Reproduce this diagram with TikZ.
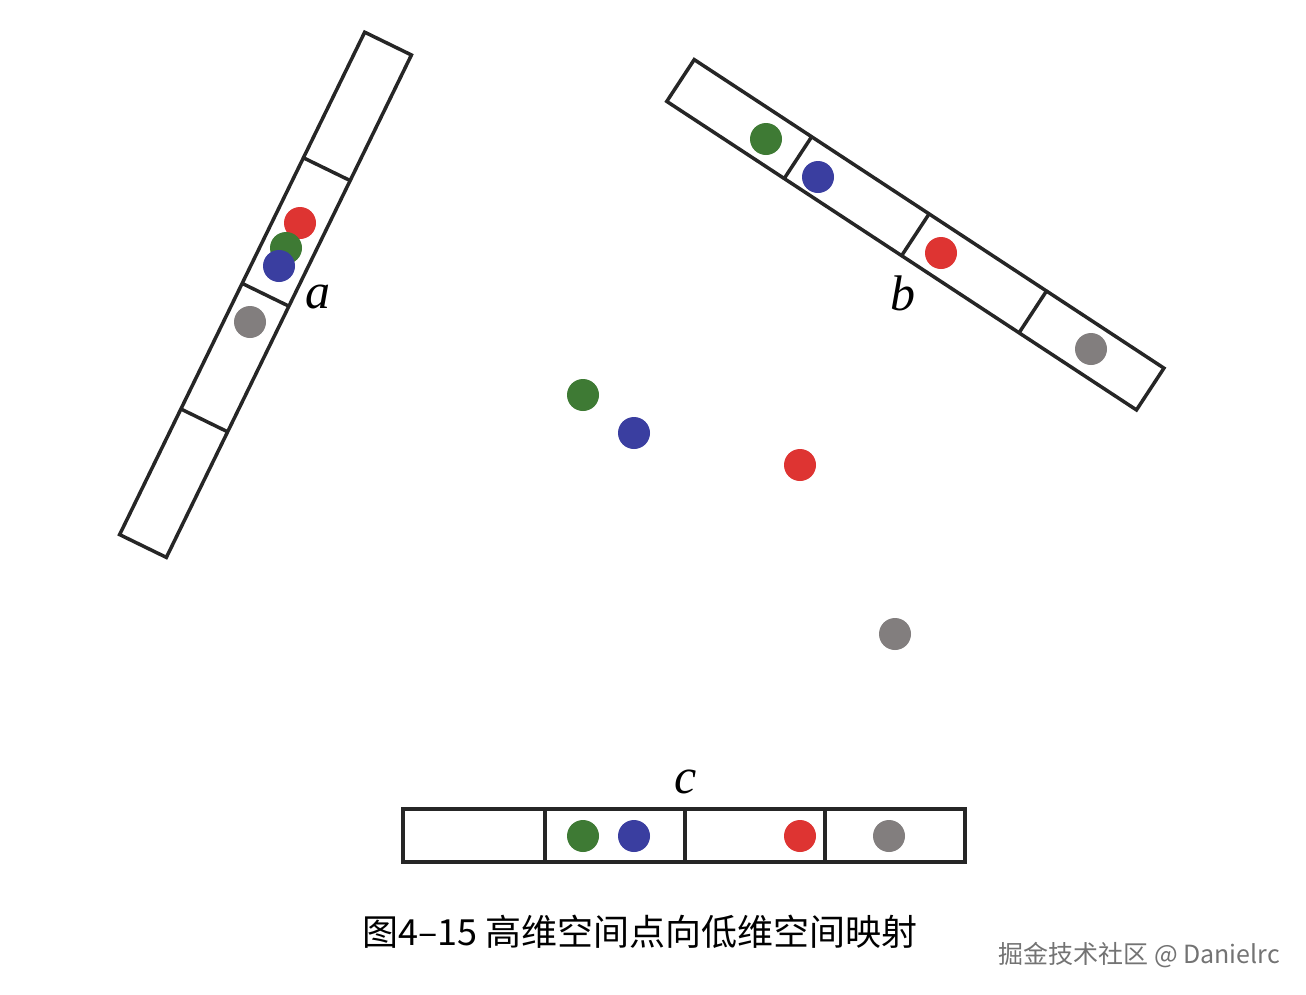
\documentclass[tikz,border=0pt]{standalone}
\usepackage{fontspec}
\setmainfont{Liberation Serif}
\newfontfamily\lblfont{Liberation Serif}
\newfontfamily\cjk{Noto Sans CJK SC}
\definecolor{dgreen}{RGB}{62,122,52}
\definecolor{dblue}{RGB}{58,62,160}
\definecolor{dred}{RGB}{222,52,50}
\definecolor{dgray}{RGB}{130,126,126}
\definecolor{wmark}{RGB}{115,115,115}
\begin{document}
\begin{tikzpicture}[x=1pt,y=-1pt,
  bar/.style={draw=black!85,line width=3.5pt,fill=white},
  divider/.style={draw=black!85,line width=3.5pt},
  dot/.style={circle,inner sep=0pt,minimum size=32pt,draw=none},
  lbl/.style={font=\lblfont\itshape\fontsize{50}{50}\selectfont,inner sep=0pt},
  caption/.style={font=\cjk\fontsize{36}{40}\selectfont,inner sep=0pt},
  water/.style={font=\cjk\fontsize{25}{28}\selectfont,text=wmark,inner sep=0pt}]
\useasboundingbox (0,0) rectangle (1306,994);
\fill[white] (0,0) rectangle (1306,994);
% bar a
\begin{scope}[shift={(143,546)},rotate=64]
  \draw[bar] (0,-26) rectangle (559,26);
  \foreach \u in {139.75,279.5,419.25} \draw[divider] (\u,-26) -- (\u,26);
\end{scope}
% bar b
\begin{scope}[shift={(680.5,80.5)},rotate=-33.3]
  \draw[bar] (0,-25) rectangle (562,25);
  \foreach \u in {140.5,281,421.5} \draw[divider] (\u,-25) -- (\u,25);
\end{scope}
% bar c
\draw[bar] (403,809) rectangle (965,862);
\foreach \u in {545,685,825} \draw[divider] (\u,809) -- (\u,862);
% dots on a
\node[dot,fill=dred] (ar) at (300,223) {};
\node[dot,fill=dgreen] (ag) at (286,248) {};
\node[dot,fill=dblue] (ab) at (279,266) {};
\node[dot,fill=dgray] (ay) at (250,322) {};
% dots on b
\node[dot,fill=dgreen] (bg) at (766,139) {};
\node[dot,fill=dblue] (bb) at (818,177) {};
\node[dot,fill=dred] (br) at (941,253) {};
\node[dot,fill=dgray] (by) at (1091,349) {};
% dots on c
\node[dot,fill=dgreen] (cg) at (583,836) {};
\node[dot,fill=dblue] (cb) at (634,836) {};
\node[dot,fill=dred] (cr) at (800,836) {};
\node[dot,fill=dgray] (cy) at (889,836) {};
% free dots
\node[dot,fill=dgreen] (fg) at (583,395) {};
\node[dot,fill=dblue] (fb) at (634,433) {};
\node[dot,fill=dred] (fr) at (800,465) {};
\node[dot,fill=dgray] (fy) at (895,634) {};
% labels
\node[lbl] (la) at (318,297) {a};
\node[lbl] (lb) at (903,293) {b};
\node[lbl] (lc) at (686,782) {c};
\node[caption] (cap) at (640,932) {图4–15 高维空间点向低维空间映射};
\node[water,anchor=east] (wm) at (1280,955) {掘金技术社区 @ Danielrc};
\end{tikzpicture}
\end{document}
